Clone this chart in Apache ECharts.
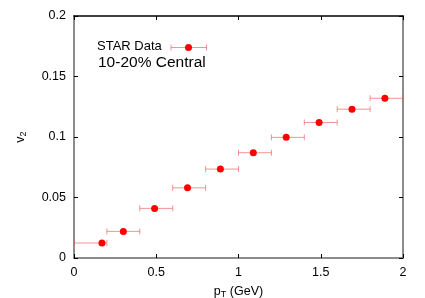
<!DOCTYPE html>
<html><head><meta charset="utf-8">
<script src="https://cdn.jsdelivr.net/npm/echarts@6/dist/echarts.min.js"></script>
<style>html,body{margin:0;padding:0;background:#fff}#c{width:425px;height:298px}</style>
</head><body><div id="c"></div>
<script>
var ptValues = [0.17, 0.30, 0.49, 0.69, 0.89, 1.09, 1.29, 1.49, 1.69, 1.89];
var v2Values = [0.0124, 0.022, 0.041, 0.058, 0.0735, 0.087, 0.0997, 0.112, 0.123, 0.132];
var ptLow = [0.0, 0.2, 0.4, 0.6, 0.8, 1.0, 1.2, 1.4, 1.6, 1.8];
var ptHigh = [0.2, 0.4, 0.6, 0.8, 1.0, 1.2, 1.4, 1.6, 1.8, 2.0];
var xTicks = [0, 0.5, 1, 1.5, 2];
var yTicks = [0, 0.05, 0.1, 0.15, 0.2];
var seriesName = 'STAR Data';
var subtitle = '10-20% Central';

var chart = echarts.init(document.getElementById('c'), null, {renderer: 'canvas'});
var FONT = 'Liberation Sans, Arial, sans-serif';
var GRAY = '#8c8c8c';
var ERR = 'rgba(238,90,90,0.65)';

var points = ptValues.map(function (x, i) { return [x, v2Values[i]]; });
var errs = ptValues.map(function (x, i) { return [ptLow[i], ptHigh[i], v2Values[i]]; });

function fmt(v) { return String(v); }

var axisCommon = {
  type: 'value',
  splitLine: {show: false},
  axisTick: {show: true, inside: true, length: 4, lineStyle: {color: '#000', width: 1}},
  axisLabel: {color: '#000', fontSize: 12.5, fontFamily: FONT, formatter: fmt}
};
var nameRich = {
  a: {fontSize: 12.5, fontFamily: FONT, color: '#000', lineHeight: 14, verticalAlign: 'top'},
  s: {fontSize: 9, fontFamily: FONT, color: '#000', lineHeight: 14, verticalAlign: 'bottom', padding: [6, 0, 0, 0]}
};

chart.setOption({
  animation: false,
  grid: {left: 74, right: 22, top: 16, bottom: 40, outerBoundsMode: 'none', containLabel: false},
  xAxis: [
    Object.assign({}, axisCommon, {
      position: 'bottom', min: xTicks[0], max: xTicks[xTicks.length - 1], interval: 0.5,
      axisLine: {show: true, onZero: false, lineStyle: {color: GRAY, width: 2}},
      axisLabel: Object.assign({}, axisCommon.axisLabel, {margin: 8}),
      name: '{a|p}{s|T}{a| (GeV)}', nameLocation: 'middle', nameGap: 24,
      nameTextStyle: {rich: nameRich}
    }),
    Object.assign({}, axisCommon, {
      position: 'top', min: xTicks[0], max: xTicks[xTicks.length - 1], interval: 0.5,
      axisLine: {show: true, onZero: false, lineStyle: {color: '#000', width: 1.5}},
      axisLabel: {show: false}
    })
  ],
  yAxis: [
    Object.assign({}, axisCommon, {
      position: 'left', min: yTicks[0], max: yTicks[yTicks.length - 1], interval: 0.05,
      axisLine: {show: true, onZero: false, lineStyle: {color: GRAY, width: 2}},
      axisLabel: Object.assign({}, axisCommon.axisLabel, {margin: 8}),
      name: '{a|v}{s|2}', nameLocation: 'middle', nameGap: 46, nameRotate: 90,
      nameTextStyle: {rich: nameRich}
    }),
    Object.assign({}, axisCommon, {
      position: 'right', min: yTicks[0], max: yTicks[yTicks.length - 1], interval: 0.05,
      axisLine: {show: true, onZero: false, lineStyle: {color: GRAY, width: 2}},
      axisLabel: {show: false}
    })
  ],
  series: [
    {
      type: 'custom', xAxisIndex: 0, yAxisIndex: 0, data: errs, z: 2,
      renderItem: function (params, api) {
        var y = api.value(2);
        var a = api.coord([api.value(0), y]);
        var b = api.coord([api.value(1), y]);
        var cap = 3;
        return {type: 'group', children: [
          {type: 'line', shape: {x1: a[0], y1: a[1], x2: b[0], y2: b[1]}, style: {stroke: ERR, lineWidth: 1}},
          {type: 'line', shape: {x1: a[0], y1: a[1] - cap, x2: a[0], y2: a[1] + cap}, style: {stroke: ERR, lineWidth: 1}},
          {type: 'line', shape: {x1: b[0], y1: b[1] - cap, x2: b[0], y2: b[1] + cap}, style: {stroke: ERR, lineWidth: 1}}
        ]};
      }
    },
    {
      name: seriesName, type: 'scatter', xAxisIndex: 0, yAxisIndex: 0, data: points, z: 3,
      symbol: 'circle', symbolSize: 7, itemStyle: {color: '#ff0000', opacity: 1}
    }
  ],
  graphic: [
    {type: 'text', left: 97, top: 40, style: {text: seriesName, fontSize: 13, fontFamily: FONT, fill: '#000'}},
    {type: 'line', shape: {x1: 171, y1: 47.5, x2: 206.5, y2: 47.5}, style: {stroke: ERR, lineWidth: 1}},
    {type: 'line', shape: {x1: 171, y1: 44.5, x2: 171, y2: 50.5}, style: {stroke: ERR, lineWidth: 1}},
    {type: 'line', shape: {x1: 206.5, y1: 44.5, x2: 206.5, y2: 50.5}, style: {stroke: ERR, lineWidth: 1}},
    {type: 'circle', shape: {cx: 188.5, cy: 47.5, r: 3.5}, style: {fill: '#ff0000'}},
    {type: 'text', left: 98, top: 55, style: {text: subtitle, fontSize: 15.5, fontFamily: FONT, fill: '#000'}}
  ]
});
</script></body></html>
